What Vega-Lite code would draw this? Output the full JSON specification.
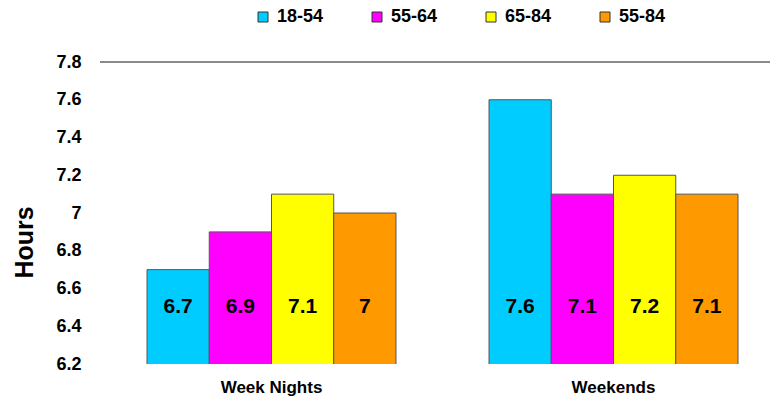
{
  "$schema": "https://vega.github.io/schema/vega-lite/v6.json",
  "autosize": {"type": "none"},
  "width": 670,
  "height": 302,
  "padding": {"left": 100, "top": 62, "right": 0, "bottom": 40},
  "background": "white",
  "config": {
    "font": "Liberation Sans",
    "view": {"stroke": null},
    "axisY": {
      "labelOverlap": false,
      "labelBound": false,
      "domain": false,
      "ticks": false,
      "grid": false,
      "labelFont": "Liberation Sans",
      "labelFontSize": 18,
      "labelFontWeight": "bold",
      "labelColor": "black",
      "labelPadding": 19
    }
  },
  "data": {
    "values": [
      {"night": "Week Nights", "age": "18-54", "hours": 6.7},
      {"night": "Week Nights", "age": "55-64", "hours": 6.9},
      {"night": "Week Nights", "age": "65-84", "hours": 7.1},
      {"night": "Week Nights", "age": "55-84", "hours": 7.0},
      {"night": "Weekends", "age": "18-54", "hours": 7.6},
      {"night": "Weekends", "age": "55-64", "hours": 7.1},
      {"night": "Weekends", "age": "65-84", "hours": 7.2},
      {"night": "Weekends", "age": "55-84", "hours": 7.1}
    ]
  },
  "encoding": {
    "x": {
      "field": "night",
      "type": "nominal",
      "sort": ["Week Nights", "Weekends"],
      "scale": {"paddingInner": 0.272, "paddingOuter": 0.1155, "align": 0.595},
      "axis": {
        "title": null,
        "domain": false,
        "ticks": false,
        "labelAngle": 0,
        "labelFont": "Liberation Sans",
        "labelFontSize": 17,
        "labelFontWeight": "bold",
        "labelColor": "black",
        "labelPadding": 15
      }
    },
    "xOffset": {
      "field": "age",
      "type": "nominal",
      "sort": ["18-54", "55-64", "65-84", "55-84"],
      "scale": {"paddingInner": 0, "paddingOuter": 0}
    },
    "y": {
      "field": "hours",
      "type": "quantitative",
      "scale": {"domain": [6.2, 7.8], "zero": false, "nice": false},
      "axis": {
        "title": "Hours",
        "values": [6.2, 6.4, 6.6, 6.8, 7.0, 7.2, 7.4, 7.6, 7.8],
        "format": "~g",
        "labelOverlap": false,
        "titleFont": "Liberation Sans",
        "titleFontSize": 25,
        "titleFontWeight": "bold",
        "titleColor": "black",
        "titleAngle": -90,
        "titleBaseline": "middle",
        "titleAlign": "center",
        "titleX": -76,
        "titleY": 180
      }
    }
  },
  "layer": [
    {
      "mark": {"type": "rule", "color": "#8a8a8a", "strokeWidth": 1.2},
      "encoding": {"y": {"datum": 7.8}, "x": null, "xOffset": null}
    },
    {
      "mark": {"type": "bar", "stroke": "#555555", "strokeWidth": 1, "clip": true},
      "encoding": {
        "color": {
          "field": "age",
          "type": "nominal",
          "scale": {
            "domain": ["18-54", "55-64", "65-84", "55-84"],
            "range": ["#00CCFF", "#FF00FF", "#FFFF00", "#FF9900"]
          },
          "legend": {
            "title": null,
            "orient": "none",
            "direction": "horizontal",
            "legendX": 154,
            "legendY": -54,
            "symbolType": "square",
            "symbolSize": 100,
            "symbolStrokeColor": "#333333",
            "symbolStrokeWidth": 1,
            "labelFont": "Liberation Sans",
            "labelFontSize": 18,
            "labelFontWeight": "bold",
            "labelColor": "black",
            "labelOffset": 5,
            "columnPadding": 44
          }
        }
      }
    },
    {
      "mark": {"type": "text", "fontSize": 21, "fontWeight": "bold", "color": "black", "baseline": "middle"},
      "encoding": {
        "y": {"datum": 6.5},
        "text": {"field": "hours", "type": "quantitative", "format": "~g"}
      }
    }
  ]
}
